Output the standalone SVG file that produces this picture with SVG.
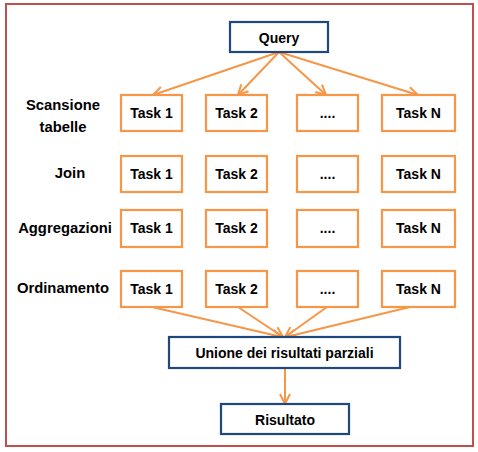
<svg xmlns="http://www.w3.org/2000/svg" width="478" height="452" viewBox="0 0 478 452">
<defs>
<marker id="ah" viewBox="0 0 12 12" refX="11" refY="6" markerWidth="12" markerHeight="12" markerUnits="userSpaceOnUse" orient="auto">
<path d="M1,1 L11,6 L1,11" fill="none" stroke="#F79646" stroke-width="2"/>
</marker>
<style>
.t{fill:#fff;stroke:#F79646;stroke-width:2.2}
.b{fill:#fff;stroke:#1F497D;stroke-width:2.2}
.c{stroke:#F79646;stroke-width:2;fill:none;marker-end:url(#ah)}
text{font-family:"Liberation Sans",Arial,sans-serif;font-weight:bold;font-size:14px;fill:#000}
.m{text-anchor:middle}
.l{font-size:14.8px}
</style>
</defs>
<rect x="0" y="0" width="478" height="452" fill="#fff"/>
<rect id="frame" x="6" y="4" width="467" height="442" fill="none" stroke="#C0504D" stroke-width="2"/>
<g id="connectors">
<line class="c" x1="279" y1="52" x2="153" y2="95"/>
<line class="c" x1="279" y1="52" x2="238" y2="95"/>
<line class="c" x1="279" y1="52" x2="326" y2="95"/>
<line class="c" x1="279" y1="52" x2="418" y2="95"/>
<line class="c" x1="152" y1="307" x2="282" y2="337"/>
<line class="c" x1="238" y1="307" x2="283" y2="337"/>
<line class="c" x1="327" y1="307" x2="285" y2="337"/>
<line class="c" x1="410" y1="307" x2="286" y2="337"/>
<line class="c" x1="285" y1="368" x2="285" y2="404"/>
</g>
<g id="query"><rect class="b" x="230" y="22" width="98" height="30"/><text class="m" x="279" y="43" font-size="15.5">Query</text></g>
<g id="labels">
<text class="m l" x="63" y="110">Scansione</text>
<text class="m l" x="63" y="132">tabelle</text>
<text class="m l" x="70" y="178">Join</text>
<text class="m l" x="65" y="233">Aggregazioni</text>
<text class="m l" x="63" y="293">Ordinamento</text>
</g>
<g id="row1">
<g id="r1t1"><rect class="t" x="121" y="95" width="61" height="36"/><text class="m" x="151.5" y="118">Task 1</text></g>
<g id="r1t2"><rect class="t" x="206" y="95" width="61" height="36"/><text class="m" x="236.5" y="118">Task 2</text></g>
<g id="r1t3"><rect class="t" x="297" y="95" width="61" height="36"/><text class="m" x="327.5" y="118">....</text></g>
<g id="r1tn"><rect class="t" x="382" y="95" width="73" height="36"/><text class="m" x="418.5" y="118">Task N</text></g>
</g>
<g id="row2">
<g id="r2t1"><rect class="t" x="121" y="156" width="61" height="36"/><text class="m" x="151.5" y="179">Task 1</text></g>
<g id="r2t2"><rect class="t" x="206" y="156" width="61" height="36"/><text class="m" x="236.5" y="179">Task 2</text></g>
<g id="r2t3"><rect class="t" x="297" y="156" width="61" height="36"/><text class="m" x="327.5" y="179">....</text></g>
<g id="r2tn"><rect class="t" x="382" y="156" width="73" height="36"/><text class="m" x="418.5" y="179">Task N</text></g>
</g>
<g id="row3">
<g id="r3t1"><rect class="t" x="121" y="210" width="61" height="37"/><text class="m" x="151.5" y="233">Task 1</text></g>
<g id="r3t2"><rect class="t" x="206" y="210" width="61" height="37"/><text class="m" x="236.5" y="233">Task 2</text></g>
<g id="r3t3"><rect class="t" x="297" y="210" width="61" height="37"/><text class="m" x="327.5" y="233">....</text></g>
<g id="r3tn"><rect class="t" x="382" y="210" width="73" height="37"/><text class="m" x="418.5" y="233">Task N</text></g>
</g>
<g id="row4">
<g id="r4t1"><rect class="t" x="121" y="271" width="61" height="36"/><text class="m" x="151.5" y="294">Task 1</text></g>
<g id="r4t2"><rect class="t" x="206" y="271" width="61" height="36"/><text class="m" x="236.5" y="294">Task 2</text></g>
<g id="r4t3"><rect class="t" x="297" y="271" width="61" height="36"/><text class="m" x="327.5" y="294">....</text></g>
<g id="r4tn"><rect class="t" x="382" y="271" width="73" height="36"/><text class="m" x="418.5" y="294">Task N</text></g>
</g>
<g id="unione"><rect class="b" x="169" y="337" width="231" height="31"/><text class="m" x="284.5" y="358" font-size="15.2">Unione dei risultati parziali</text></g>
<g id="risultato"><rect class="b" x="221" y="404" width="128" height="30"/><text class="m" x="285" y="425" font-size="17.5">Risultato</text></g>
</svg>
